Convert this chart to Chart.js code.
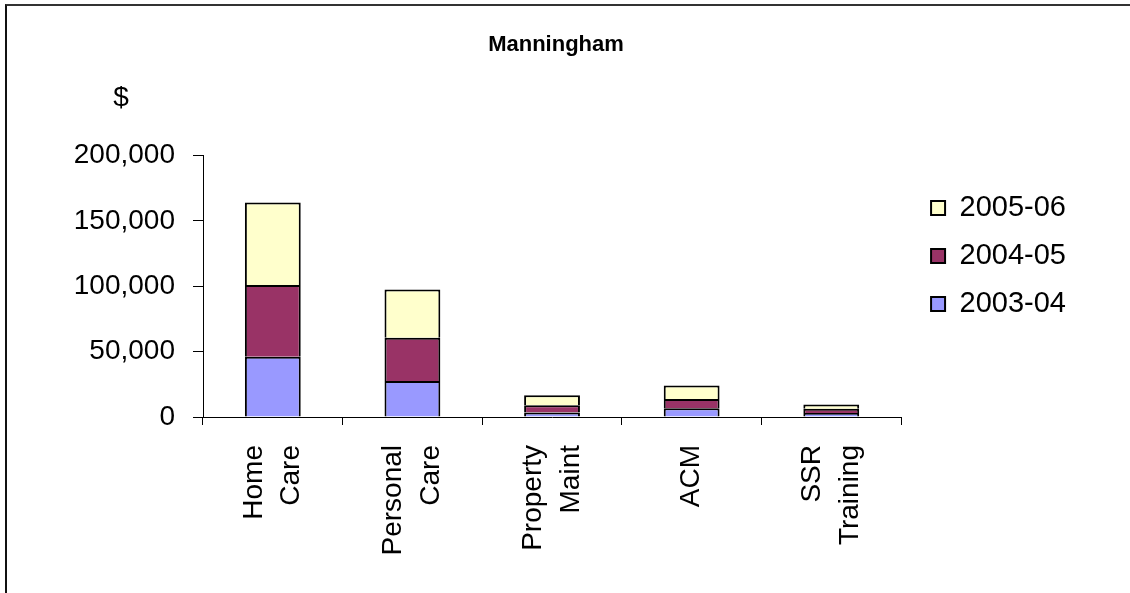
<!DOCTYPE html>
<html>
<head>
<meta charset="utf-8">
<title>Manningham</title>
<script src="https://cdn.jsdelivr.net/npm/chart.js@4/dist/chart.umd.min.js"></script>
<style>
    html, body { margin: 0; padding: 0; background: #fff; overflow: hidden; }
    .wrap { position: relative; width: 1130px; height: 593px; }
    /* 外框：只看得到上边和左边 */
    .frame { position: absolute; left: 5px; top: 4px; width: 1200px; height: 700px;
             border-top: 2px solid #333; border-left: 2px solid #111; }
    canvas { position: absolute; left: 0; top: 0; }
</style>
</head>
<body>
<div class="wrap">
    <div class="frame"></div>
    <canvas id="chart" width="1130" height="593"></canvas>
</div>
<script>
// 数据
const categories = [['Home', 'Care'], ['Personal', 'Care'], ['Property', 'Maint'], 'ACM', ['SSR', 'Training']];
const seriesNames = ['2003-04', '2004-05', '2005-06'];
const values0304 = [46000, 27500, 3400, 6700, 3000];
const values0405 = [55000, 33000, 5600, 7100, 3400];
const values0506 = [63000, 37000, 7600, 10200, 3100];
const yTicks = [0, 50000, 100000, 150000, 200000];

const FONT = "'Liberation Sans', Arial, sans-serif";
Chart.defaults.font.family = FONT;
Chart.defaults.color = '#000';

// "$" 标签画在 y 轴上方
const dollarLabel = {
    id: 'dollarLabel',
    afterDraw(chart) {
        const ctx = chart.ctx;
        const area = chart.chartArea;
        ctx.save();
        ctx.font = '28px ' + FONT;
        ctx.fillStyle = '#000';
        ctx.textAlign = 'center';
        ctx.textBaseline = 'middle';
        ctx.fillText('$', area.left - 82, area.top - 57);
        ctx.restore();
    }
};

const makeSet = (label, data, color) => ({
    label: label,
    data: data,
    backgroundColor: color,
    borderColor: '#000',
    borderWidth: 2
});

new Chart(document.getElementById('chart'), {
    type: 'bar',
    data: {
        labels: categories,
        datasets: [
            makeSet(seriesNames[0], values0304, '#9999FF'),
            makeSet(seriesNames[1], values0405, '#993366'),
            makeSet(seriesNames[2], values0506, '#FFFFCC')
        ]
    },
    options: {
        responsive: false,
        animation: false,
        layout: { padding: { left: 36, right: 54, top: 0, bottom: 0 } },
        datasets: { bar: { categoryPercentage: 1, barPercentage: 0.4 } },
        plugins: {
            title: {
                display: true,
                text: 'Manningham',
                color: '#000',
                font: { size: 22, weight: 'bold' },
                padding: { top: 32, bottom: 97 }
            },
            legend: {
                position: 'right',
                align: 'start',
                fullSize: false,
                reverse: true,
                // 空标题只用来把图例往下推
                title: { display: true, text: '', font: { size: 10, lineHeight: 1 }, padding: { top: 0, bottom: 9 } },
                labels: {
                    color: '#000',
                    font: { size: 29 },
                    boxWidth: 14,
                    boxHeight: 14,
                    padding: 19
                }
            },
            tooltip: { enabled: false }
        },
        scales: {
            x: {
                stacked: true,
                afterFit(scale) { scale.height = 176; },
                grid: { display: true, drawOnChartArea: false, drawTicks: true, tickLength: 8, color: '#000', offset: true },
                border: { display: true, color: '#000', width: 1 },
                ticks: {
                    autoSkip: false,
                    minRotation: 90,
                    maxRotation: 90,
                    padding: 20,
                    labelOffset: -19,
                    // 单行标签借 backdrop 的位置规则回到正中
                    showLabelBackdrop: (ctx) => !Array.isArray(categories[ctx.index]),
                    backdropColor: 'rgba(0,0,0,0)',
                    color: '#000',
                    font: { size: 28, lineHeight: 1.35 }
                }
            },
            y: {
                stacked: true,
                min: yTicks[0],
                max: yTicks[yTicks.length - 1],
                afterFit(scale) { scale.width = 167; },
                afterBuildTicks(scale) { scale.ticks = yTicks.map(v => ({ value: v })); },
                grid: { display: true, drawOnChartArea: false, drawTicks: true, tickLength: 10, color: '#000' },
                border: { display: true, color: '#000', width: 1 },
                ticks: {
                    padding: 18,
                    color: '#000',
                    font: { size: 28 },
                    callback: (v) => v.toLocaleString('en-US')
                }
            },
            // 占位轴：把图表区和图例隔开
            gap: {
                type: 'linear',
                position: 'right',
                display: true,
                afterFit(scale) { scale.width = 11; },
                grid: { display: false },
                border: { display: false },
                ticks: { display: false }
            }
        }
    },
    plugins: [dollarLabel]
});
</script>
</body>
</html>
